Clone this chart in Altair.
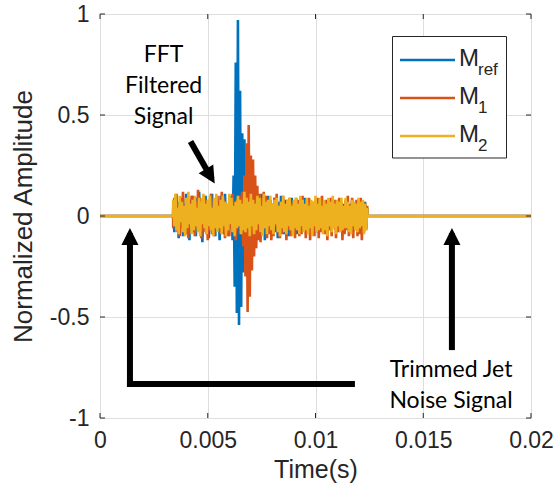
import altair as alt
import numpy as np
import pandas as pd

# ---------------- data ----------------
t_start = 0.0034
t_step = 0.00005

m_ref = [
    0.05, -0.08, 0.10, -0.04, 0.07, -0.11, 0.03, -0.06, 0.09, -0.10,
    0.06, -0.03, 0.11, -0.09, 0.04, -0.12, 0.08, -0.05, 0.10, -0.07,
    0.03, -0.10, 0.09, -0.06, 0.12, -0.08, 0.05, -0.13, 0.07, -0.04,
    0.10, -0.09, 0.06, -0.11, 0.08, -0.05, 0.11, -0.07, 0.04, -0.10,
    0.09, -0.06, 0.07, -0.12, 0.10, -0.04, 0.06, -0.09, 0.11, -0.08,
    0.05, -0.10, 0.08, -0.06, 0.10, -0.12, 0.20, -0.35, 0.76, -0.48,
    0.97, -0.54, 0.62, -0.45, 0.41, -0.28, 0.38, -0.22, 0.25, -0.15,
    0.16, -0.12, 0.10, -0.08, 0.06, -0.11, 0.09, -0.05, 0.07, -0.10,
    0.04, -0.08, 0.11, -0.06, 0.09, -0.12, 0.05, -0.07, 0.10, -0.04,
    0.08, -0.10, 0.06, -0.05, 0.09, -0.08, 0.04, -0.11, 0.07, -0.06,
    0.10, -0.04, 0.05, -0.09, 0.08, -0.07, 0.03, -0.10, 0.06, -0.05,
    0.09, -0.08, 0.04, -0.06, 0.07, -0.09, 0.05, -0.04, 0.08, -0.07,
    0.06, -0.05, 0.09, -0.08, 0.03, -0.07, 0.06, -0.09, 0.05, -0.04,
    0.07, -0.06, 0.04, -0.08, 0.06, -0.05, 0.08, -0.07, 0.04, -0.06,
    0.05, -0.08, 0.07, -0.04, 0.06, -0.07, 0.03, -0.05, 0.08, -0.06,
    0.04, -0.07, 0.06, -0.05, 0.07, -0.04, 0.05, -0.08, 0.06, -0.03,
    0.07, -0.06, 0.04, -0.07, 0.05, -0.05, 0.08, -0.04, 0.06, -0.07,
    0.05, -0.06, 0.07, -0.04, 0.04, -0.08, 0.06, -0.05, 0.07, -0.06,
    0.04,
]

m_1 = [
    -0.06, 0.09, -0.04, 0.11, -0.08, 0.05, -0.10, 0.07, -0.03, 0.12,
    -0.07, 0.04, -0.09, 0.08, -0.11, 0.06, -0.05, 0.10, -0.08, 0.03,
    -0.10, 0.07, -0.06, 0.13, -0.04, 0.09, -0.11, 0.05, -0.08, 0.10,
    -0.05, 0.08, -0.12, 0.06, -0.07, 0.11, -0.09, 0.04, -0.10, 0.08,
    -0.06, 0.10, -0.04, 0.07, -0.09, 0.12, -0.05, 0.08, -0.11, 0.06,
    -0.08, 0.05, -0.10, 0.09, -0.06, 0.11, -0.04, 0.07, -0.12, 0.08,
    -0.05, 0.10, -0.09, 0.06, 0.12, -0.15, 0.20, -0.30, 0.36, -0.475,
    0.45, -0.40, 0.30, -0.27, 0.28, -0.20, 0.20, -0.16, 0.15, -0.12,
    0.11, -0.13, 0.09, -0.08, 0.12, -0.06, 0.10, -0.11, 0.07, -0.09,
    0.08, -0.12, 0.06, -0.10, 0.09, -0.05, 0.11, -0.08, 0.04, -0.11,
    0.07, -0.09, 0.10, -0.06, 0.05, -0.12, 0.08, -0.07, 0.09, -0.10,
    0.06, -0.08, 0.07, -0.11, 0.09, -0.05, 0.08, -0.10, 0.06, -0.09,
    0.10, -0.07, 0.05, -0.11, 0.08, -0.06, 0.09, -0.12, 0.07, -0.08,
    0.06, -0.10, 0.08, -0.05, 0.09, -0.11, 0.07, -0.08, 0.10, -0.06,
    0.05, -0.09, 0.08, -0.12, 0.06, -0.07, 0.09, -0.10, 0.07, -0.05,
    0.08, -0.11, 0.06, -0.08, 0.09, -0.06, 0.07, -0.12, 0.05, -0.09,
    0.08, -0.07, 0.10, -0.10, 0.06, -0.08, 0.09, -0.11, 0.07, -0.06,
    0.08, -0.10, 0.06, -0.09, 0.09, -0.12, 0.07, -0.08, 0.06, -0.07,
    0.05,
]

m_2 = [
    0.08, -0.05, 0.11, -0.07, 0.04, -0.09, 0.10, -0.03, 0.07, -0.08,
    0.05, -0.10, 0.09, -0.06, 0.12, -0.04, 0.06, -0.09, 0.08, -0.07,
    0.10, -0.05, 0.04, -0.08, 0.09, -0.10, 0.07, -0.04, 0.11, -0.06,
    0.06, -0.09, 0.08, -0.05, 0.10, -0.07, 0.04, -0.10, 0.09, -0.06,
    0.11, -0.08, 0.05, -0.06, 0.08, -0.09, 0.10, -0.05, 0.07, -0.10,
    0.06, -0.07, 0.11, -0.04, 0.09, -0.08, 0.05, -0.10, 0.07, -0.06,
    0.10, -0.05, 0.08, -0.09, 0.06, -0.07, 0.12, -0.08, 0.09, -0.06,
    0.07, -0.10, 0.11, -0.05, 0.08, -0.09, 0.06, -0.07, 0.10, -0.04,
    0.09, -0.08, 0.05, -0.10, 0.11, -0.06, 0.07, -0.09, 0.08, -0.05,
    0.10, -0.07, 0.06, -0.09, 0.08, -0.04, 0.09, -0.08, 0.05, -0.10,
    0.07, -0.06, 0.10, -0.08, 0.06, -0.09, 0.08, -0.05, 0.09, -0.07,
    0.05, -0.10, 0.08, -0.06, 0.09, -0.07, 0.06, -0.09, 0.10, -0.05,
    0.08, -0.08, 0.06, -0.07, 0.09, -0.09, 0.05, -0.06, 0.08, -0.10,
    0.07, -0.05, 0.10, -0.08, 0.06, -0.07, 0.09, -0.06, 0.05, -0.09,
    0.08, -0.07, 0.06, -0.10, 0.09, -0.05, 0.07, -0.08, 0.10, -0.06,
    0.06, -0.09, 0.08, -0.05, 0.07, -0.08, 0.09, -0.07, 0.05, -0.06,
    0.09, -0.06, 0.07, -0.08, 0.05, -0.09, 0.08, -0.05, 0.07, -0.07,
    0.06, -0.08, 0.09, -0.06, 0.07, -0.05, 0.08, -0.09, 0.06, -0.07,
    0.04,
]

flat_before_t = [0.0, 0.00339]
flat_after_t = [0.01241, 0.02]

series_names = ["M_ref", "M_1", "M_2"]
series_colors = ["#0072BD", "#D95319", "#EDB120"]
legend_main = ["M", "M", "M"]
legend_sub = ["ref", "1", "2"]

x_ticks = [0, 0.005, 0.01, 0.015, 0.02]
y_ticks = [-1, -0.5, 0, 0.5, 1]

# annotation arrows (data units)
arrow_shafts = {
    "t": [0.00139, 0.00139, 0.01633, 0.00427],
    "v": [-0.832, -0.832, -0.649, 0.356],
    "t2": [0.00139, 0.01169, 0.01633, 0.00512],
    "v2": [-0.10, -0.832, -0.10, 0.197],
}
arrow_heads = {
    "t": [0.00139, 0.01633, 0.00512],
    "v": [-0.101, -0.101, 0.197],
    "angle": [0, 0, 149],
}
notes = {
    "t": [0.00295, 0.01629],
    "v": [0.762, -0.797],
    "text": ["FFT\nFiltered\nSignal", "Trimmed Jet\nNoise Signal"],
}

# ---------------- build ----------------
W, H = 431, 404
t_noise = np.round(t_start + t_step * np.arange(len(m_ref)), 6)


def series_df(vals):
    t = list(flat_before_t) + list(t_noise) + list(flat_after_t)
    v = [0.0, 0.0] + list(vals) + [0.0, 0.0]
    return pd.DataFrame({"t": t, "v": v})


xscale = alt.Scale(domain=[0, 0.02], nice=False, zero=False)
yscale = alt.Scale(domain=[-1, 1], nice=False, zero=False)

xaxis = alt.Axis(
    values=x_ticks, labelExpr="'' + datum.value", title="Time(s)",
    grid=True, gridColor="#dedede", domain=False, ticks=False,
    labelFontSize=23, titleFontSize=25, labelPadding=11,
    labelColor="#262626", titleColor="#262626", labelFont="Liberation Sans",
    titleFont="Liberation Sans", titleFontWeight="normal", titleY=59,
    titleBaseline="alphabetic", labelFlush=False,
)
yaxis = alt.Axis(
    values=y_ticks, labelExpr="'' + datum.value", title="Normalized Amplitude",
    grid=True, gridColor="#dedede", domain=False, ticks=False,
    labelFontSize=23, titleFontSize=26, labelPadding=11,
    labelColor="#262626", titleColor="#262626", labelFont="Liberation Sans",
    titleFont="Liberation Sans", titleFontWeight="normal", titleX=-69,
    titleBaseline="alphabetic", titleAngle=270, labelFlush=False,
)

X = alt.X("t:Q", scale=xscale, axis=xaxis)
Y = alt.Y("v:Q", scale=yscale, axis=yaxis)

layers = []
for i, vals in enumerate([m_ref, m_1, m_2]):
    layers.append(
        alt.Chart(series_df(vals)).mark_line(
            color=series_colors[i], strokeWidth=2.6, clip=True
        ).encode(x=X, y=Y, order="t:Q")
    )

# inward ticks on all four sides
xt = pd.DataFrame({"t": x_ticks})
yt = pd.DataFrame({"v": y_ticks})
tick_len = 5
layers.append(alt.Chart(xt).mark_rule(color="#262626", strokeWidth=1).encode(
    x=X, y=alt.value(H), y2=alt.value(H - tick_len)))
layers.append(alt.Chart(xt).mark_rule(color="#262626", strokeWidth=1).encode(
    x=X, y=alt.value(0), y2=alt.value(tick_len)))
layers.append(alt.Chart(yt).mark_rule(color="#262626", strokeWidth=1).encode(
    y=Y, x=alt.value(0), x2=alt.value(tick_len)))
layers.append(alt.Chart(yt).mark_rule(color="#262626", strokeWidth=1).encode(
    y=Y, x=alt.value(W), x2=alt.value(W - tick_len)))

# arrows
layers.append(alt.Chart(pd.DataFrame(arrow_shafts)).mark_rule(
    color="black", strokeWidth=6, strokeCap="square").encode(
    x=X, y=Y, x2="t2:Q", y2="v2:Q"))
layers.append(alt.Chart(pd.DataFrame(arrow_heads)).mark_point(
    shape="M0,-1L-1,1L1,1Z", filled=True, color="black", opacity=1, size=289,
    strokeWidth=0).encode(
    x=X, y=Y, angle=alt.Angle("angle:Q", scale=None)))

# annotation texts
layers.append(alt.Chart(pd.DataFrame(notes)).mark_text(
    font="Lato", fontSize=23, color="black", align="center", baseline="alphabetic",
    lineBreak="\n", lineHeight=31).encode(
    x=X, y=Y, text="text:N"))

# legend (manual, with subscripts)
one = pd.DataFrame({"a": [0]})
layers.append(alt.Chart(one).mark_rect(fill="white", stroke="#262626", strokeWidth=1).encode(
    x=alt.value(292.5), x2=alt.value(406.5), y=alt.value(22.5), y2=alt.value(144)))
leg_y = [46, 84, 122]
for i in range(3):
    layers.append(alt.Chart(one).mark_rule(color=series_colors[i], strokeWidth=2.6).encode(
        x=alt.value(300), x2=alt.value(355), y=alt.value(leg_y[i])))
    layers.append(alt.Chart(one).mark_text(
        font="Liberation Sans", fontSize=24, color="#262626", align="left",
        baseline="alphabetic").encode(
        x=alt.value(359), y=alt.value(leg_y[i] + 5.5), text=alt.value(legend_main[i])))
    layers.append(alt.Chart(one).mark_text(
        font="Liberation Sans", fontSize=17, color="#262626", align="left",
        baseline="alphabetic").encode(
        x=alt.value(378), y=alt.value(leg_y[i] + 15), text=alt.value(legend_sub[i])))

chart = alt.layer(*layers).properties(
    width=W, height=H,
    autosize=alt.AutoSizeParams(type="none"),
    padding={"left": 100, "top": 14, "right": 23, "bottom": 75},
).configure_view(stroke="#262626", strokeWidth=1).configure(background="white")

chart.save("out.html", embed_options={"renderer": "svg", "actions": False})
